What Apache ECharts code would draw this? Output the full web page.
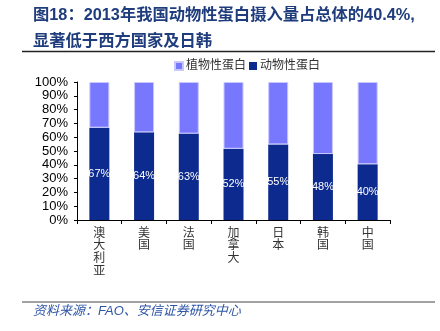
<!DOCTYPE html>
<html>
<head>
<meta charset="utf-8">
<script src="https://cdn.jsdelivr.net/npm/echarts@6/dist/echarts.min.js"></script>
<style>html,body{margin:0;padding:0;background:#fff}#c{width:440px;height:331px}</style>
</head>
<body>
<div id="c"></div>
<script>
const categories = ['澳大利亚', '美国', '法国', '加拿大', '日本', '韩国', '中国'];
const animalShare = [66.9, 63.5, 62.6, 51.6, 54.8, 47.8, 40.4];
const plantShare = [33.1, 36.5, 37.4, 48.4, 45.2, 52.2, 59.6];
const seriesNames = ['植物性蛋白', '动物性蛋白'];
const titleLines = ['图18：2013年我国动物性蛋白摄入量占总体的40.4%,', '显著低于西方国家及日韩'];
const sourceText = '资料来源：FAO、安信证券研究中心';

const FONT = '"Liberation Sans", Arial, "Noto Sans CJK SC", sans-serif';
const chart = echarts.init(document.getElementById('c'), null, {renderer: 'canvas'});
chart.setOption({
  animation: false,
  backgroundColor: '#fff',
  graphic: [
    {type: 'text', left: 33, top: 7, style: {text: titleLines[0], font: 'bold 16.3px ' + FONT, fill: '#1f3d7c'}},
    {type: 'text', left: 33, top: 33, style: {text: titleLines[1], font: 'bold 16.3px ' + FONT, fill: '#1f3d7c'}},
    {type: 'line', shape: {x1: 22, y1: 51.5, x2: 435, y2: 51.5}, style: {stroke: '#222', lineWidth: 1.5}},
    {type: 'line', shape: {x1: 22, y1: 302, x2: 435, y2: 302}, style: {stroke: '#444', lineWidth: 1}},
    {type: 'text', left: 33, top: 305, style: {text: sourceText, font: 'italic 13px ' + FONT, fill: '#2e55a6'}}
  ],
  legend: {
    data: seriesNames,
    left: 174, top: 60, padding: 0,
    itemWidth: 8, itemHeight: 8, itemGap: 3,
    icon: 'rect',
    textStyle: {fontSize: 12, color: '#333', fontFamily: FONT, padding: [0, 0, 0, -2]}
  },
  grid: {left: 77, right: 50, top: 82, bottom: 111},
  xAxis: {
    type: 'category',
    data: categories,
    axisLine: {lineStyle: {color: '#000', width: 1}},
    axisTick: {show: true, length: 4, lineStyle: {color: '#000'}},
    axisLabel: {
      margin: 7, fontSize: 12, lineHeight: 12.7, color: '#333', fontFamily: FONT,
      formatter: v => v.split('').join('\n')
    }
  },
  yAxis: {
    type: 'value', min: 0, max: 100, interval: 10,
    splitLine: {show: false},
    axisLine: {show: true, lineStyle: {color: '#000', width: 1}},
    axisTick: {show: true, length: 3, lineStyle: {color: '#000'}},
    axisLabel: {formatter: '{value}%', fontSize: 13, color: '#000', margin: 9, fontFamily: FONT}
  },
  series: [
    {
      name: seriesNames[1], type: 'bar', stack: 'a', barWidth: 20,
      data: animalShare,
      itemStyle: {color: '#0d2a8e'},
      label: {
        show: true, position: 'inside', color: '#fff', fontSize: 11, fontFamily: FONT,
        formatter: p => Math.round(p.value) + '%'
      }
    },
    {
      name: seriesNames[0], type: 'bar', stack: 'a', barWidth: 20,
      data: plantShare,
      itemStyle: {color: '#7878ff', borderColor: '#c8c8ff', borderWidth: 1}
    }
  ]
});
</script>
</body>
</html>
